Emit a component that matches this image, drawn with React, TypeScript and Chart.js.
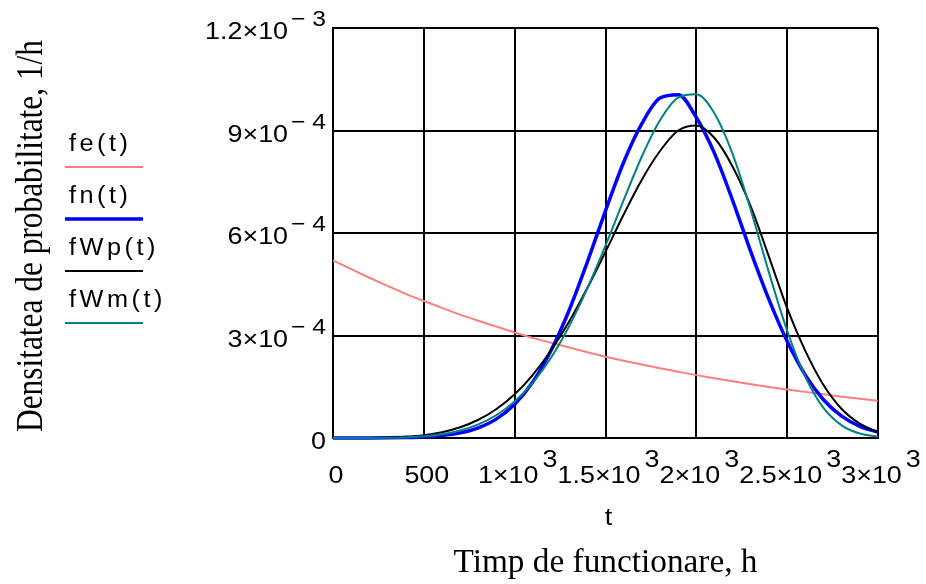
import React, { useEffect, useRef } from "react";
import { Chart, registerables } from "chart.js";

Chart.register(...registerables);

// ---- data (time in hours, densities in units of 1e-4 per hour) ----
const tHours = [
  0, 100, 200, 300, 400, 500, 600, 700, 800, 900, 1000, 1100, 1200, 1300, 1400, 1500,
  1600, 1700, 1800, 1900, 2000, 2100, 2200, 2300, 2400, 2500, 2600, 2700, 2800, 2900, 3000,
];
const feValues = [
  5.2, 4.94, 4.69, 4.45, 4.22, 4.01, 3.81, 3.61, 3.43, 3.26, 3.09, 2.93, 2.79, 2.65, 2.51, 2.38,
  2.26, 2.15, 2.04, 1.94, 1.84, 1.75, 1.66, 1.57, 1.49, 1.42, 1.35, 1.28, 1.21, 1.15, 1.09,
];
const fnValues = [
  0, 0.001, 0.002, 0.005, 0.013, 0.031, 0.07, 0.149, 0.298, 0.56, 0.99, 1.64, 2.56, 3.74, 5.15, 6.65,
  8.07, 9.2, 9.95, 10.05, 9.38, 8.33, 6.95, 5.45, 4.05, 2.83, 1.84, 1.12, 0.64, 0.34, 0.17,
];
const fWpValues = [
  0, 0.0001, 0.002, 0.011, 0.034, 0.082, 0.17, 0.315, 0.534, 0.85, 1.28, 1.85, 2.56, 3.41, 4.39, 5.45,
  6.54, 7.56, 8.4, 9.0, 9.15, 8.78, 7.94, 6.77, 5.3, 3.8, 2.55, 1.55, 0.85, 0.42, 0.17,
];
const fWmValues = [
  0, 0, 0.001, 0.005, 0.018, 0.048, 0.11, 0.219, 0.398, 0.673, 1.071, 1.623, 2.351, 3.272, 4.378, 5.633,
  6.961, 8.238, 9.301, 9.964, 10.06, 9.5, 8.31, 6.67, 4.84, 3.14, 1.79, 0.88, 0.37, 0.13, 0.04,
];
const VALUE_UNIT = 1e-4;

const seriesLabels = ["fe(t)", "fn(t)", "fWp(t)", "fWm(t)"];
const seriesValues = [feValues, fnValues, fWpValues, fWmValues];
const seriesColors = ["#ff7f7f", "#0000ff", "#000000", "#008080"];
const seriesWidths = [2, 3.5, 2, 2];

const xTickValues = [0, 500, 1000, 1500, 2000, 2500, 3000];
const xTickBase = ["0", "500", "1×10", "1.5×10", "2×10", "2.5×10", "3×10"];
const xTickExp = ["", "", "3", "3", "3", "3", "3"];
const yTickValues = [0, 3e-4, 6e-4, 9e-4, 1.2e-3];
const yTickBase = ["0", "3×10", "6×10", "9×10", "1.2×10"];
const yTickExp = ["", "− 4", "− 4", "− 4", "− 3"];

const xVarLabel = "t";
const xTitle = "Timp de functionare, h";
const yTitle = "Densitatea de probabilitate, 1/h";

// ---- styling ----
const SANS = '"Liberation Sans", Arial, sans-serif';
const SERIF = '"Liberation Serif", "Times New Roman", serif';
const STRETCH = 1.12;

function widthOf(ctx: CanvasRenderingContext2D, s: string, font: string, sx: number) {
  ctx.save();
  ctx.font = font;
  const w = ctx.measureText(s).width * sx;
  ctx.restore();
  return w;
}

function putText(
  ctx: CanvasRenderingContext2D,
  s: string,
  x: number,
  y: number,
  font: string,
  sx: number,
  align: "left" | "right" | "center" = "left"
) {
  const w = widthOf(ctx, s, font, sx);
  const left = align === "left" ? x : align === "right" ? x - w : x - w / 2;
  ctx.save();
  ctx.font = font;
  ctx.translate(left, y);
  ctx.scale(sx, 1);
  ctx.textAlign = "left";
  ctx.textBaseline = "alphabetic";
  ctx.fillText(s, 0, 0);
  ctx.restore();
  return w;
}

function putSpaced(ctx: CanvasRenderingContext2D, s: string, x: number, y: number, font: string, sx: number, gap: number) {
  let cx = x;
  for (const ch of s) {
    cx += putText(ctx, ch, cx, y, font, sx) + gap;
  }
}

const decorPlugin = {
  id: "decor",
  afterDraw(chart: any) {
    const ctx: CanvasRenderingContext2D = chart.ctx;
    const xs = chart.scales.x;
    const ys = chart.scales.y;
    const area = chart.chartArea;
    ctx.save();
    ctx.fillStyle = "#000";

    const base = `24px ${SANS}`;
    const sup = `22px ${SANS}`;

    // x tick labels
    xTickValues.forEach((v, i) => {
      const px = xs.getPixelForValue(v);
      const bw = widthOf(ctx, xTickBase[i], base, STRETCH);
      const gap = 4;
      const ew = xTickExp[i] ? widthOf(ctx, xTickExp[i], base, STRETCH) + gap : 0;
      let left = px - (bw + ew) / 2 + 3;
      if (left + bw + ew > 922) left = 922 - bw - ew;
      const baseY = area.bottom + 45;
      putText(ctx, xTickBase[i], left, baseY, base, STRETCH);
      if (xTickExp[i]) putText(ctx, xTickExp[i], left + bw + gap, baseY - 16, base, STRETCH);
    });

    // y tick labels
    yTickValues.forEach((v, i) => {
      const py = ys.getPixelForValue(v);
      const right = area.left - 7;
      const baseY = py + 11;
      let baseRight = right;
      if (yTickExp[i]) {
        const ew = putText(ctx, yTickExp[i], right, baseY - 13, sup, STRETCH, "right");
        baseRight = right - ew - 3;
      }
      putText(ctx, yTickBase[i], baseRight, baseY, base, STRETCH, "right");
    });

    // axis variable and titles
    const cx = (area.left + area.right) / 2;
    putText(ctx, xVarLabel, cx + 3, area.bottom + 87, base, STRETCH, "center");

    const serifFont = `34px ${SERIF}`;
    const natX = widthOf(ctx, xTitle, serifFont, 1);
    putText(ctx, xTitle, cx, area.bottom + 134, serifFont, 304 / natX, "center");

    const natY = widthOf(ctx, yTitle, serifFont, 1);
    ctx.save();
    ctx.font = serifFont;
    ctx.translate(41.5, 236);
    ctx.scale(1.1, 392 / natY);
    ctx.rotate(-Math.PI / 2);
    ctx.textAlign = "center";
    ctx.textBaseline = "alphabetic";
    ctx.fillText(yTitle, 0, 0);
    ctx.restore();

    // legend
    const legendFont = `23px ${SANS}`;
    seriesLabels.forEach((label, i) => {
      const ly = 167 + i * 52;
      ctx.fillStyle = "#000";
      putSpaced(ctx, label, 69, ly - 16, legendFont, 1.1, 3.5);
      ctx.beginPath();
      ctx.strokeStyle = seriesColors[i];
      ctx.lineWidth = seriesWidths[i];
      ctx.moveTo(65, ly);
      ctx.lineTo(143, ly);
      ctx.stroke();
    });

    ctx.restore();
  },
};

export default function App() {
  const ref = useRef<HTMLCanvasElement>(null);

  useEffect(() => {
    const canvas = ref.current;
    if (!canvas) return;
    const datasets = seriesLabels.map((label, i) => ({
      label,
      data: tHours.map((t, k) => ({ x: t, y: seriesValues[i][k] * VALUE_UNIT })),
      borderColor: seriesColors[i],
      backgroundColor: seriesColors[i],
      borderWidth: seriesWidths[i],
      pointRadius: 0,
      fill: false,
      cubicInterpolationMode: "monotone" as const,
      order: 4 - i,
      clip: 4,
    }));

    const chart = new Chart(canvas, {
      type: "line",
      data: { datasets },
      options: {
        responsive: false,
        animation: false,
        devicePixelRatio: 1,
        layout: { padding: { left: 0, top: 28, right: 48, bottom: 0 } },
        plugins: { legend: { display: false }, tooltip: { enabled: false } },
        scales: {
          x: {
            type: "linear",
            min: 0,
            max: 3000,
            afterBuildTicks: (s: any) => {
              s.ticks = xTickValues.map((v) => ({ value: v }));
            },
            afterFit: (s: any) => {
              s.height = 146;
            },
            ticks: { display: false },
            grid: { color: "#000", lineWidth: 2, drawTicks: false },
            border: { color: "#000", width: 2 },
          },
          y: {
            type: "linear",
            min: 0,
            max: 1.2e-3,
            afterBuildTicks: (s: any) => {
              s.ticks = yTickValues.map((v) => ({ value: v }));
            },
            afterFit: (s: any) => {
              s.width = 333;
            },
            ticks: { display: false },
            grid: { color: "#000", lineWidth: 2, drawTicks: false },
            border: { color: "#000", width: 2 },
          },
        },
      },
      plugins: [decorPlugin],
    });
    return () => chart.destroy();
  }, []);

  return (
    <div style={{ position: "fixed", left: 0, top: 0, width: 926, height: 584, background: "#fff" }}>
      <canvas ref={ref} width={926} height={584} style={{ display: "block", width: 926, height: 584 }} />
    </div>
  );
}
